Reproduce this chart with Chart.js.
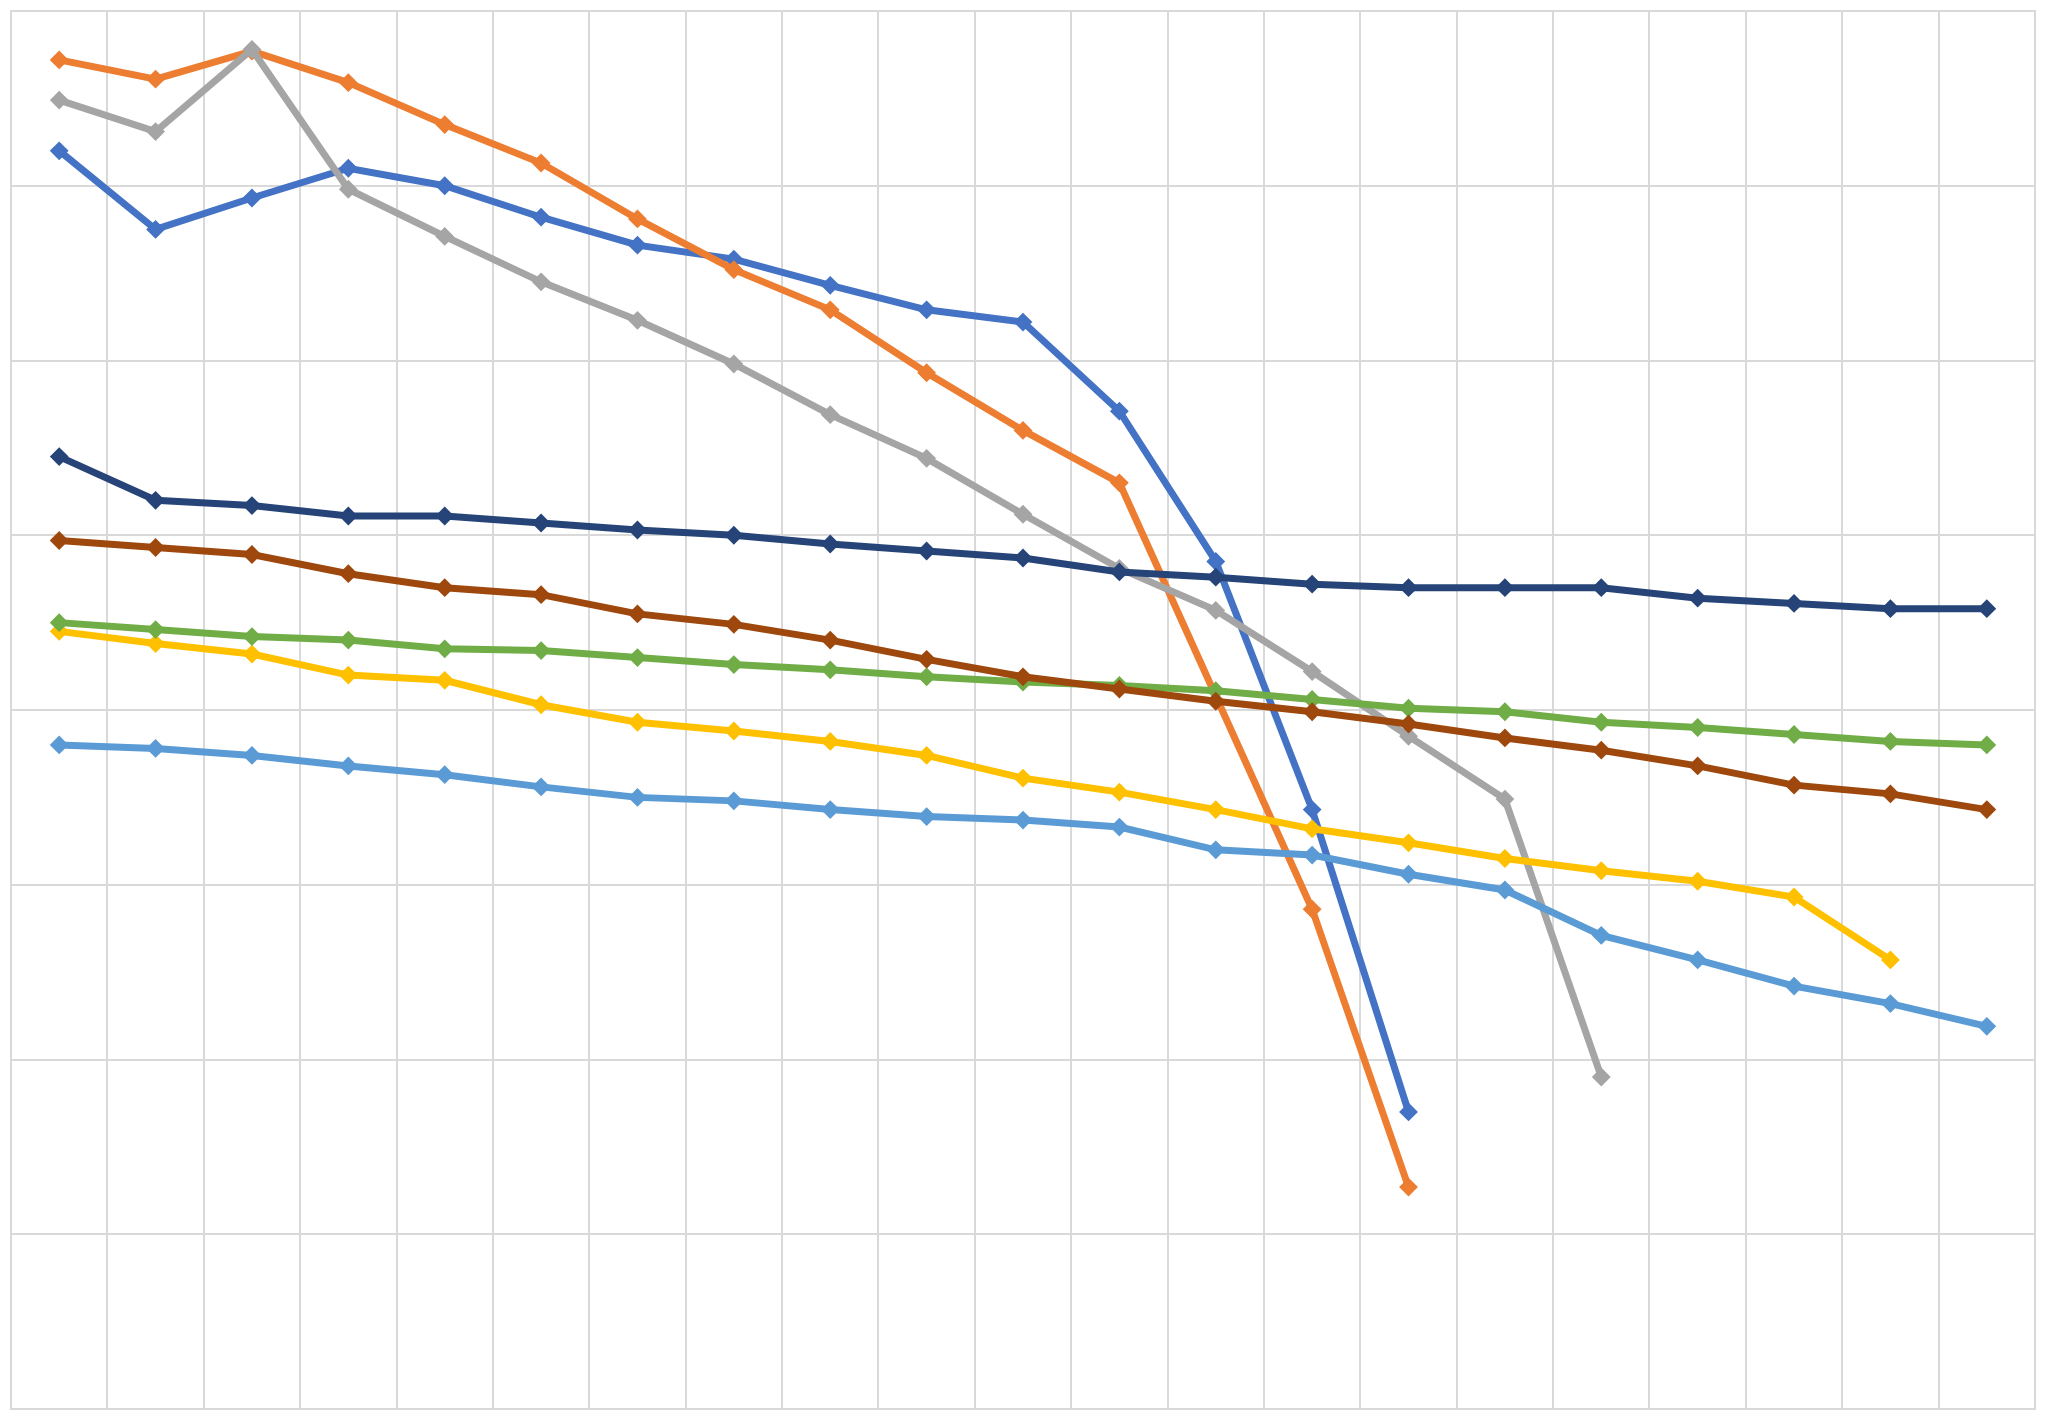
<!DOCTYPE html>
<html>
<head>
<meta charset="utf-8">
<script src="https://cdn.jsdelivr.net/npm/chart.js@4/dist/chart.umd.min.js"></script>
<style>
  html, body { margin: 0; padding: 0; background: #ffffff; }
  #wrap { width: 2045px; height: 1419px; }
</style>
</head>
<body>
<div id="wrap"><canvas id="c" width="2045" height="1419"></canvas></div>
<script>
const categories = ["1","2","3","4","5","6","7","8","9","10","11","12","13","14","15","16","17","18","19","20","21"];

const series1 = [7.20, 6.75, 6.93, 7.10, 7.00, 6.82, 6.66, 6.58, 6.43, 6.29, 6.22, 5.71, 4.85, 3.43, 1.70];
const series2 = [7.72, 7.61, 7.77, 7.59, 7.35, 7.13, 6.81, 6.52, 6.29, 5.93, 5.60, 5.30, null, 2.86, 1.27];
const series3 = [7.49, 7.31, 7.78, 6.98, 6.71, 6.45, 6.23, 5.98, 5.69, 5.44, 5.12, 4.81, 4.57, 4.22, 3.85, 3.49, 1.90];
const series4 = [4.45, 4.38, 4.32, 4.20, 4.17, 4.03, 3.93, 3.88, 3.82, 3.74, 3.61, 3.53, 3.43, 3.32, 3.24, 3.15, 3.08, 3.02, 2.93, 2.57];
const series5 = [3.80, 3.78, 3.74, 3.68, 3.63, 3.56, 3.50, 3.48, 3.43, 3.39, 3.37, 3.33, 3.20, 3.17, 3.06, 2.97, 2.71, 2.57, 2.42, 2.32, 2.19];
const series6 = [4.50, 4.46, 4.42, 4.40, 4.35, 4.34, 4.30, 4.26, 4.23, 4.19, 4.16, 4.14, 4.11, 4.06, 4.01, 3.99, 3.93, 3.90, 3.86, 3.82, 3.80];
const series7 = [5.45, 5.20, 5.17, 5.11, 5.11, 5.07, 5.03, 5.00, 4.95, 4.91, 4.87, 4.79, 4.76, 4.72, 4.70, 4.70, 4.70, 4.64, 4.61, 4.58, 4.58];
const series8 = [4.97, 4.93, 4.89, 4.78, 4.70, 4.66, 4.55, 4.49, 4.40, 4.29, 4.19, 4.12, 4.05, 3.99, 3.92, 3.84, 3.77, 3.68, 3.57, 3.52, 3.43];

const seriesNames = ["Series1","Series2","Series3","Series4","Series5","Series6","Series7","Series8"];
const seriesData = [series1, series2, series3, series4, series5, series6, series7, series8];
const seriesColors = ["#4472C4","#ED7D31","#A5A5A5","#FFC000","#5B9BD5","#70AD47","#264478","#9E480E"];

const yMin = 0, yMax = 8, yStep = 1;

const datasets = seriesData.map((d, i) => ({
  label: seriesNames[i],
  data: d,
  borderColor: seriesColors[i],
  backgroundColor: seriesColors[i],
  borderWidth: 7,
  pointStyle: 'rectRot',
  pointRadius: 8,
  pointBorderWidth: 2,
  pointBorderColor: seriesColors[i],
  pointBackgroundColor: seriesColors[i],
  tension: 0,
  spanGaps: true,
  fill: false,
  order: seriesData.length - i
}));

new Chart(document.getElementById('c'), {
  type: 'line',
  data: { labels: categories, datasets: datasets },
  options: {
    responsive: false,
    animation: false,
    devicePixelRatio: 1,
    layout: { padding: { left: 11, top: 11, right: 10, bottom: 10 } },
    plugins: { legend: { display: false }, tooltip: { enabled: false } },
    scales: {
      x: {
        type: 'category',
        offset: true,
        grid: { offset: true, color: '#D9D9D9', lineWidth: 2, drawTicks: false },
        border: { display: true, color: '#D9D9D9', width: 2 },
        ticks: { display: false }
      },
      y: {
        min: yMin, max: yMax,
        ticks: { display: false, stepSize: yStep },
        grid: { color: '#D9D9D9', lineWidth: 2, drawTicks: false },
        border: { display: true, color: '#D9D9D9', width: 2 }
      }
    }
  },
  plugins: [{
    id: 'frame',
    afterDraw(chart) {
      const a = chart.chartArea, ctx = chart.ctx;
      ctx.save();
      ctx.strokeStyle = '#D9D9D9';
      ctx.lineWidth = 2;
      ctx.beginPath();
      ctx.moveTo(a.left, a.top); ctx.lineTo(a.right, a.top); ctx.lineTo(a.right, a.bottom);
      ctx.stroke();
      ctx.restore();
    }
  }]
});
</script>
</body>
</html>
